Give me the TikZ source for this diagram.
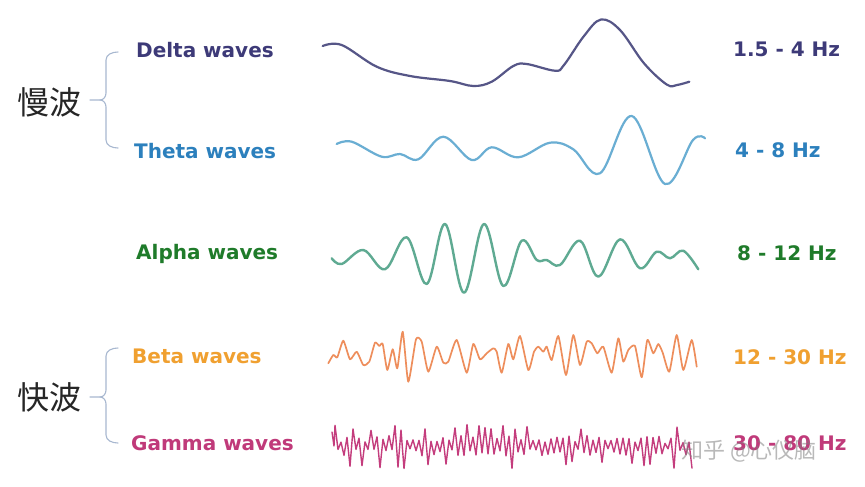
\documentclass[tikz,border=0pt]{standalone}
\usepackage{fontspec}
\setsansfont{DejaVu Sans}
\newfontfamily\cjk{Noto Sans CJK SC}
\definecolor{cDelta}{HTML}{3D3A78}
\definecolor{cTheta}{HTML}{2C80BD}
\definecolor{cAlpha}{HTML}{1F7B2A}
\definecolor{cBeta}{HTML}{F0A030}
\definecolor{cGamma}{HTML}{C03A7A}
\definecolor{wDelta}{HTML}{565687}
\definecolor{wTheta}{HTML}{6AAED3}
\definecolor{wAlpha}{HTML}{5FAA92}
\definecolor{wBeta}{HTML}{EE8E5C}
\definecolor{wGamma}{HTML}{C43D7D}
\definecolor{brace}{HTML}{A8B8D0}
\begin{document}
\begin{tikzpicture}[x=1pt,y=-1pt,
  lbl/.style={font=\fontsize{20}{24}\selectfont\sffamily\bfseries, anchor=base west, inner sep=0pt},
  zh/.style={font=\cjk\fontsize{32}{36}\selectfont, anchor=base west, inner sep=0pt, text=black!85},
  wave/.style={line width=2.2pt, line cap=round, line join=round},
  bracestyle/.style={draw=brace, line width=1.1pt, line cap=round}]
\useasboundingbox[fill=white] (0,0) rectangle (865,487);

% labels left
\node[lbl, text=cDelta] (ld) at (136,57.5) {Delta waves};
\node[lbl, text=cTheta] (lt) at (134,158) {Theta waves};
\node[lbl, text=cAlpha] (la) at (136,259) {Alpha waves};
\node[lbl, text=cBeta]  (lb) at (132,363) {Beta waves};
\node[lbl, text=cGamma] (lg) at (131,450) {Gamma waves};

% labels right
\node[lbl, text=cDelta] (hd) at (733,57) {1.5 - 4 Hz};
\node[lbl, text=cTheta] (ht) at (735,157) {4 - 8 Hz};
\node[lbl, text=cAlpha] (ha) at (737,260) {8 - 12 Hz};
\node[lbl, text=cBeta]  (hb) at (733,364) {12 - 30 Hz};
\node[lbl, text=cGamma] (hg) at (733,450) {30 - 80 Hz};

% Chinese group labels
\node[zh] (slow) at (17,114) {慢波};
\node[zh] (fast) at (17,409) {快波};

% braces
\coordinate (b1t) at (118,52);
\coordinate (b1m) at (90,100);
\coordinate (b1b) at (118,148);
\draw[bracestyle] (b1t) to[out=180,in=90] (106,60) -- (106,93) to[out=-90,in=0] (100,100) -- (b1m);
\draw[bracestyle] (b1b) to[out=180,in=-90] (106,140) -- (106,107) to[out=90,in=0] (100,100);
\coordinate (b2t) at (118,348);
\coordinate (b2m) at (90,397);
\coordinate (b2b) at (118,443);
\draw[bracestyle] (b2t) to[out=180,in=90] (106,356) -- (106,390) to[out=-90,in=0] (100,397) -- (b2m);
\draw[bracestyle] (b2b) to[out=180,in=-90] (106,435) -- (106,404) to[out=90,in=0] (100,397);

% Delta wave
\draw[wave, wDelta] plot[smooth, tension=0.6] coordinates {
(322.7,46) (341.7,45) (376.7,66.7) (410,76) (450,81) (473.3,86) (491.7,81.7)
(513.3,66) (526.7,64) (555,70.7) (564,65) (584,36) (601,19.5) (620,30)
(644,63.3) (666.7,84.5) (677,85) (689.3,81.7)};

% Theta wave
\draw[wave, wTheta] plot[smooth, tension=0.6] coordinates {
(336.7,144) (351.7,141.7) (381.7,156.7) (400,154) (418.3,159.3) (443.3,136.7)
(471.7,160) (491.7,147.3) (518.3,157.3) (550,142.7) (573.3,149.3) (600,173.3)
(631.7,116) (665,184) (693,140) (705,138.3)};

% Alpha wave
\draw[wave, wAlpha, line width=2.4pt] plot[smooth, tension=0.6] coordinates {
(331.7,258.3) (341.7,264) (363.3,250) (385,269.3) (406.7,237.3) (426.7,284)
(445,224) (464,292.7) (484,224) (503.3,286) (521.7,240.7) (536.7,260)
(546.7,260) (560,265) (580,240.7) (598.3,276.7) (620,239.3) (640,268.3)
(656.7,251.7) (670,258.3) (683.3,250.7) (698.3,269.3)};

% Beta wave
\draw[wave, wBeta, line width=1.7pt] plot[smooth, tension=0.35] coordinates {
(328.3,363.3) (333.3,355) (337.3,357.3) (343.3,340.7) (350,359.3) (356.7,351.7)
(363.3,365) (369.3,361.7) (375,342.7) (379.3,346) (382.7,344) (387.3,370)
(392.7,349.3) (397.3,368.3) (402.7,331.7) (408.3,381.7) (416,339.3) (421.7,341.7)
(428.3,371.7) (436.7,346.7) (443.3,362.7) (448.3,361.7) (456.7,340) (466.7,372.7)
(473.3,344) (480,359.3) (486.7,353.3) (493.3,348.3) (496.7,351.7) (501.7,372.7)
(508.3,344) (513.3,359.3) (520,336) (528.3,370) (534,351.7) (538.3,346.7)
(543.3,351.7) (546.7,346.7) (551.7,360) (558.3,336) (566,375) (573.3,335)
(580,365) (586.7,341.7) (591.7,343.3) (597.3,353.3) (603.3,346.7) (611.7,372.7)
(618.3,338.3) (623.3,361.7) (628.3,350) (635,346) (641.7,377.3) (647.3,340)
(653.3,353.3) (658.3,344) (662.7,352.7) (669.3,371.7) (676.7,335) (683.3,370)
(691.7,340) (696.7,366.7)};

% Gamma wave
\pgfmathsetseed{17}
\draw[wave, wGamma, line width=1.4pt] (332,432) -- (334,446) -- plot[domain=1:120, samples=120]
  ({332+3*\x}, {446 + (1-2*mod(\x,2))*(2.5 + 8*rnd + 13*(rnd>0.8))});

% watermark
\node[font=\cjk\fontsize{22}{26}\selectfont, text=gray, opacity=0.55, anchor=base west, inner sep=0pt] (wm) at (681,458) {知乎 @心仪脑};
\end{tikzpicture}
\end{document}
